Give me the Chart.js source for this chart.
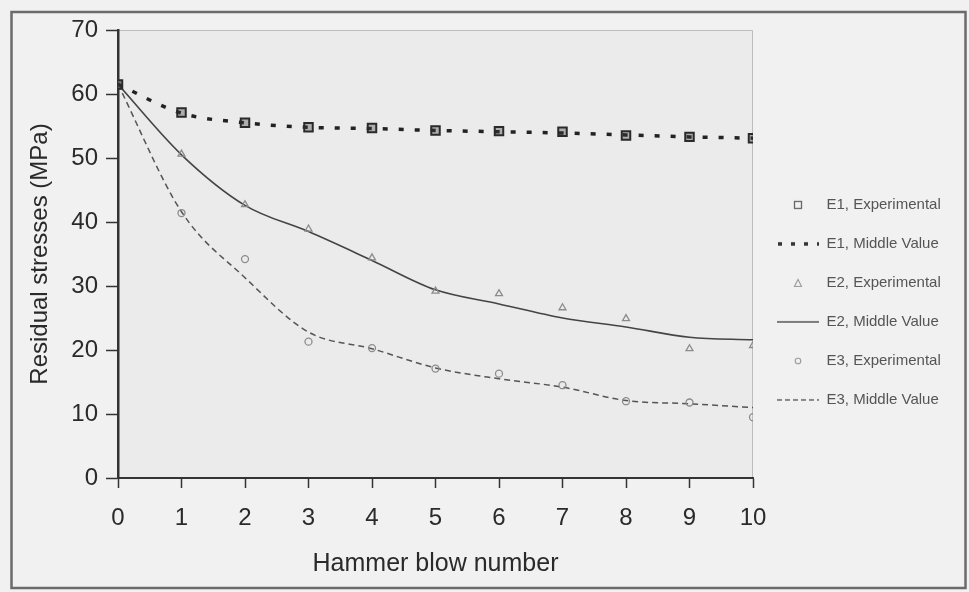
<!DOCTYPE html>
<html>
<head>
<meta charset="utf-8">
<script src="https://cdn.jsdelivr.net/npm/chart.js@4/dist/chart.umd.min.js"></script>
<style>
  html, body { margin: 0; padding: 0; background: #f1f1f1; }
  canvas { display: block; }
</style>
</head>
<body>
<canvas id="chart" width="969" height="592"></canvas>
<script>
// Hammer blow count along the x axis
const blows = [0, 1, 2, 3, 4, 5, 6, 7, 8, 9, 10];

// Residual stresses (MPa) per series
const e1Experimental = [61.5, 57.1, 55.5, 54.8, 54.7, 54.3, 54.2, 54.1, 53.5, 53.3, 53.1];
const e1Middle       = [61.5, 57.0, 55.5, 54.8, 54.6, 54.3, 54.1, 53.9, 53.6, 53.3, 53.1];
const e2Experimental = [61.5, 50.6, 42.7, 38.9, 34.4, 29.2, 28.8, 26.6, 24.9, 20.2, 20.7];
const e2Middle       = [61.5, 50.5, 42.6, 38.5, 34.0, 29.4, 27.2, 25.0, 23.6, 22.0, 21.6];
const e3Experimental = [61.5, 41.4, 34.2, 21.3, 20.3, 17.1, 16.3, 14.5, 12.0, 11.8, 9.5];
const e3Middle       = [61.5, 41.6, 31.3, 22.8, 20.2, 17.2, 15.5, 14.2, 12.1, 11.6, 11.0];

// Axis ticks
const xTickValues = [0, 1, 2, 3, 4, 5, 6, 7, 8, 9, 10];
const yTickValues = [0, 10, 20, 30, 40, 50, 60, 70];

// Legend texts
const seriesNames = [
  'E1, Experimental', 'E1, Middle Value',
  'E2, Experimental', 'E2, Middle Value',
  'E3, Experimental', 'E3, Middle Value'
];

const toPoints = vals => blows.map((b, i) => ({ x: b, y: vals[i] }));

const FONT = '"Liberation Sans", Arial, sans-serif';
const LEGEND_SIZE = 15;
const LEGEND_PAD = 24;
const GLYPH_W = 42;
const PLOT_RIGHT = 753;

// Reserve exactly enough room on the right for the legend column
const measure = document.createElement('canvas').getContext('2d');
measure.font = LEGEND_SIZE + 'px ' + FONT;
const legendTextW = Math.max(...seriesNames.map(t => measure.measureText(t).width));
const legendW = LEGEND_PAD + GLYPH_W + LEGEND_SIZE / 2 + legendTextW + 10;
const rightPad = Math.max(0, 969 - PLOT_RIGHT - legendW);

// Small legend glyphs
function glyph(draw) {
  const c = document.createElement('canvas');
  c.width = GLYPH_W; c.height = 14;
  draw(c.getContext('2d'));
  return c;
}
const legendGlyphs = [
  glyph(g => { g.strokeStyle = '#666'; g.lineWidth = 1.3; g.strokeRect(17.5, 3.5, 7, 7); }),
  glyph(g => { g.strokeStyle = '#333'; g.lineWidth = 3.5; g.setLineDash([4, 9]); g.beginPath(); g.moveTo(1, 7); g.lineTo(42, 7); g.stroke(); }),
  glyph(g => { g.strokeStyle = '#999'; g.lineWidth = 1.1; g.beginPath(); g.moveTo(21, 3.5); g.lineTo(24.5, 10.5); g.lineTo(17.5, 10.5); g.closePath(); g.stroke(); }),
  glyph(g => { g.strokeStyle = '#555'; g.lineWidth = 1.6; g.beginPath(); g.moveTo(0, 7); g.lineTo(42, 7); g.stroke(); }),
  glyph(g => { g.strokeStyle = '#999'; g.lineWidth = 1.1; g.beginPath(); g.arc(21, 7, 2.8, 0, Math.PI * 2); g.stroke(); }),
  glyph(g => { g.strokeStyle = '#666'; g.lineWidth = 1.4; g.setLineDash([5, 3]); g.beginPath(); g.moveTo(0, 7); g.lineTo(42, 7); g.stroke(); })
];

// Page backdrop, plot panel and outer frame
const backdrop = {
  id: 'backdrop',
  beforeDraw(chart) {
    const { ctx, chartArea: a, width, height } = chart;
    ctx.save();
    ctx.fillStyle = '#f1f1f1';
    ctx.fillRect(0, 0, width, height);
    ctx.fillStyle = '#ebebeb';
    ctx.fillRect(a.left, a.top, a.right - a.left, a.bottom - a.top);
    ctx.strokeStyle = '#bdbdbd';
    ctx.lineWidth = 1;
    ctx.beginPath();
    ctx.moveTo(a.left, a.top + 0.5);
    ctx.lineTo(a.right - 0.5, a.top + 0.5);
    ctx.lineTo(a.right - 0.5, a.bottom);
    ctx.stroke();
    ctx.strokeStyle = '#6b6b6b';
    ctx.lineWidth = 2.5;
    ctx.strokeRect(11.5, 12, 954, 576);
    ctx.restore();
  }
};

new Chart(document.getElementById('chart'), {
  type: 'line',
  data: {
    datasets: [
      {
        label: seriesNames[0], data: toPoints(e1Experimental), showLine: false,
        pointStyle: 'rect', pointRadius: 6, borderColor: '#2a2a2a', backgroundColor: 'rgba(60,60,60,0.35)',
        pointBorderWidth: 2
      },
      {
        label: seriesNames[1], data: toPoints(e1Middle), borderColor: '#222', borderWidth: 3.5,
        borderDash: [5, 11], pointRadius: 0, cubicInterpolationMode: 'monotone'
      },
      {
        label: seriesNames[2], data: toPoints(e2Experimental), showLine: false,
        pointStyle: 'triangle', pointRadius: 4, borderColor: '#8c8c8c', backgroundColor: 'rgba(0,0,0,0)',
        pointBorderWidth: 1.3
      },
      {
        label: seriesNames[3], data: toPoints(e2Middle), borderColor: '#444', borderWidth: 1.6,
        pointRadius: 0, cubicInterpolationMode: 'monotone'
      },
      {
        label: seriesNames[4], data: toPoints(e3Experimental), showLine: false,
        pointStyle: 'circle', pointRadius: 3.5, borderColor: '#8c8c8c', backgroundColor: 'rgba(0,0,0,0)',
        pointBorderWidth: 1.3
      },
      {
        label: seriesNames[5], data: toPoints(e3Middle), borderColor: '#555', borderWidth: 1.5,
        borderDash: [6, 4], pointRadius: 0, cubicInterpolationMode: 'monotone'
      }
    ]
  },
  options: {
    responsive: false,
    animation: false,
    devicePixelRatio: 1,
    layout: { padding: { left: 0, top: 30, right: rightPad, bottom: 0 } },
    plugins: {
      tooltip: { enabled: false },
      legend: {
        position: 'right',
        align: 'start',
        fullSize: false,
        title: { display: true, text: ' ', color: 'rgba(0,0,0,0)', padding: { top: 129, bottom: 0 } },
        labels: {
          usePointStyle: true,
          pointStyleWidth: GLYPH_W,
          padding: LEGEND_PAD,
          font: { family: FONT, size: LEGEND_SIZE },
          color: '#555',
          generateLabels: () => seriesNames.map((name, i) => ({
            text: name,
            pointStyle: legendGlyphs[i],
            fontColor: '#555',
            datasetIndex: i,
            hidden: false,
            lineWidth: 0
          }))
        }
      }
    },
    scales: {
      x: {
        type: 'linear',
        min: 0, max: 10,
        afterBuildTicks: s => { s.ticks = xTickValues.map(v => ({ value: v })); },
        afterFit: s => { s.height = 114; },
        grid: { display: true, drawOnChartArea: false, drawTicks: true, tickLength: 10, tickColor: '#333', tickWidth: 1.5 },
        border: { display: true, color: '#333', width: 2 },
        ticks: { color: '#2a2a2a', font: { family: FONT, size: 24 }, padding: 16, maxRotation: 0 },
        title: { display: true, text: 'Hammer blow number', color: '#2a2a2a', font: { family: FONT, size: 25 }, padding: { top: 0, bottom: 13 } }
      },
      y: {
        min: 0, max: 70,
        afterBuildTicks: s => { s.ticks = yTickValues.map(v => ({ value: v })); },
        afterFit: s => { s.width = 118; },
        grid: { display: true, drawOnChartArea: false, drawTicks: true, tickLength: 12, tickColor: '#333', tickWidth: 1.5 },
        border: { display: true, color: '#333', width: 2.5 },
        ticks: { color: '#2a2a2a', font: { family: FONT, size: 24 }, padding: 8 },
        title: { display: true, text: 'Residual stresses (MPa)', color: '#2a2a2a', font: { family: FONT, size: 24 }, padding: { top: 26, bottom: 0 } }
      }
    }
  },
  plugins: [backdrop]
});
</script>
</body>
</html>
